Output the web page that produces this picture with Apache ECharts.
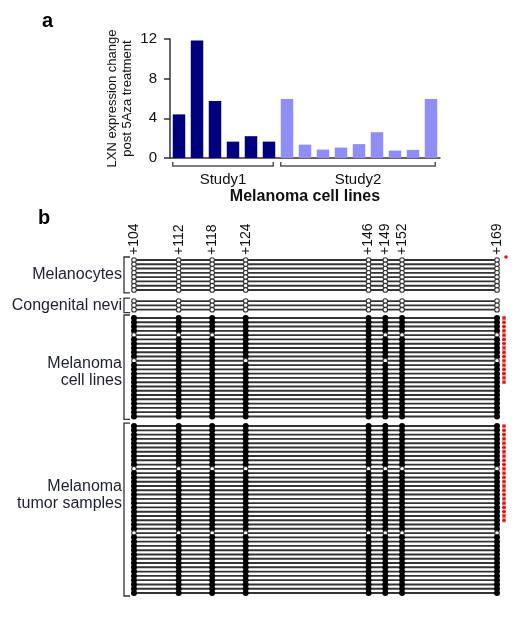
<!DOCTYPE html>
<html><head><meta charset="utf-8">
<script src="https://cdn.jsdelivr.net/npm/echarts@6/dist/echarts.min.js"></script>
<style>html,body{margin:0;padding:0;background:#fff}#c{width:524px;height:617px}</style>
</head><body><div id="c"></div>
<script>
// ---------- Panel a data ----------
const study1Values = [4.4, 11.85, 5.75, 1.65, 2.2, 1.65];
const study2Values = [5.95, 1.35, 0.85, 1.05, 1.4, 2.6, 0.75, 0.82, 5.95];
const studyNames = ['Study1', 'Study2'];
const yTickValues = [0, 4, 8, 12];

// ---------- Panel b data ----------
const sites = [104, 112, 118, 124, 146, 149, 152, 169];
const groupLabels = ['Melanocytes', 'Congenital nevi', 'Melanoma\ncell lines', 'Melanoma\ntumor samples'];
// 1 = methylated (filled), 0 = unmethylated (open)
const melanocytes = ['00000000','00000000','00000000','00000000','00000000','00000000','00000000','00000000'];
const congenitalNevi = ['00000000','00000000','00000000'];
const melanomaCellLines = [
  '11111111','11111111','11111111','11111111','00011000','11111111','11111111','11111111',
  '11111111','11111111','01101010','11111111','11111111','11111111','11111111','11111111',
  '11111111','11111111','11111111','11111111','11111111','11111111','11111111','11111111'
];
const melanomaTumors = [
  '11111111','11111111','11111111','11111111','11111111','11111111','11111111','11111111',
  '11111111','11111111','00000000','11111111','11111111','11111111','11111111','11111111',
  '11111111','11111111','11111111','11111111','11111111','11111111','11111111','11111111',
  '11111111','00000000','11111111','11111111','11111111','11111111','11111111','11111111',
  '11111111','11111111','11111111','11111111','11111111','11111111','11111111','11111111'
];
// red asterisk marks to the right of rows
const melanocyteMarks = [1,0,0,0,0,0,0,0];
const congenitalNeviMarks = [0,0,0];
const cellLineMarks = [1,1,1,1,1,1,1,1,1,1,1,1,1,1,1,1,0,0,0,0,0,0,0,0];
const tumorMarks = [1,1,1,1,1,1,1,1,1,1,1,1,1,1,1,1,1,1,1,1,1,1,1,0,0,0,0,0,0,0,0,0,0,0,0,0,0,0,0,0];

// ---------- layout (not data) ----------
const FONT = '"Liberation Sans", Arial, sans-serif';
const groupStart = [0, 9.6, 13.55, 38.8];
const rowAxisMax = 77.8;
const labelShift = [0, 0, 5, -14];
const BAR_W = 12.5;

const barData = study1Values.map(v => ({value: v, itemStyle: {color: '#00007e'}}))
  .concat(study2Values.map(v => ({value: v, itemStyle: {color: '#8e8ef6'}})));
const barCats = barData.map((d, i) => 'L' + (i + 1));
const studyRanges = [[0, study1Values.length - 1], [study1Values.length, study1Values.length + study2Values.length - 1]];

const groupRows = [melanocytes, congenitalNevi, melanomaCellLines, melanomaTumors];
const groupMarks = [melanocyteMarks, congenitalNeviMarks, cellLineMarks, tumorMarks];
const rowsFlat = [];
groupRows.forEach((rows, g) => rows.forEach((p, i) => rowsFlat.push({y: groupStart[g] + i, pattern: p, mark: groupMarks[g][i], group: g})));
const groupSpans = groupRows.map((rows, g) => [groupStart[g], groupStart[g] + rows.length - 1]);

const chart = echarts.init(document.getElementById('c'), null, {renderer: 'canvas'});
chart.setOption({
  animation: false,
  textStyle: {fontFamily: FONT},
  graphic: [
    {type: 'text', left: 42, top: 11, style: {text: 'a', font: 'bold 20px ' + FONT, fill: '#000'}},
    {type: 'text', left: 38, top: 208, style: {text: 'b', font: 'bold 20px ' + FONT, fill: '#000'}}
  ],
  grid: [
    {left: 170, right: 84, top: 39, bottom: 617 - 158},
    {left: 134, right: 27, top: 260, bottom: 24}
  ],
  xAxis: [
    {gridIndex: 0, type: 'category', data: barCats,
     axisLine: {show: true, lineStyle: {color: '#333', width: 1.5}},
     axisTick: {show: false}, axisLabel: {show: false},
     name: 'Melanoma cell lines', nameLocation: 'middle', nameGap: 31, nameMoveOverlap: false,
     nameTextStyle: {fontWeight: 'bold', fontSize: 16, color: '#111', fontFamily: FONT}},
    {gridIndex: 1, type: 'value', min: 104, max: 169, position: 'top',
     axisLine: {show: false}, axisTick: {show: false}, splitLine: {show: false},
     axisLabel: {show: true, customValues: sites, formatter: v => '+' + v, rotate: 90,
                 fontSize: 14, color: '#111', margin: 5, fontFamily: FONT}}
  ],
  yAxis: [
    {gridIndex: 0, type: 'value', min: 0, max: 12, interval: 4,
     axisLine: {show: true, lineStyle: {color: '#333', width: 1.5}},
     axisTick: {show: true, length: 6, lineStyle: {color: '#333', width: 1.5}},
     splitLine: {show: false},
     axisLabel: {fontSize: 15, color: '#111', margin: 13, fontFamily: FONT,
                 customValues: yTickValues},
     name: 'LXN expression change\npost 5Aza treatment', nameLocation: 'middle', nameRotate: 90,
     nameGap: 35, nameMoveOverlap: false,
     nameTextStyle: {fontSize: 13, lineHeight: 15, color: '#111', fontFamily: FONT}},
    {gridIndex: 1, type: 'value', min: 0, max: rowAxisMax, inverse: true, show: false}
  ],
  series: [
    {type: 'bar', xAxisIndex: 0, yAxisIndex: 0, data: barData, barWidth: BAR_W},
    {type: 'custom', xAxisIndex: 0, yAxisIndex: 0, clip: false, z: 5,
     data: studyRanges.map(r => [r[0], 0, r[1]]),
     encode: {x: 0, y: 1},
     renderItem: function (params, api) {
       const a = api.coord([api.value(0), 0]);
       const b = api.coord([api.value(2), 0]);
       const x0 = a[0] - BAR_W / 2, x1 = b[0] + BAR_W / 2 - 2;
       const y = a[1] + 8;
       return {type: 'group', children: [
         {type: 'polyline', shape: {points: [[x0, y - 4], [x0, y], [x1, y], [x1, y - 4]]},
          style: {stroke: '#555', lineWidth: 1.5, fill: null}},
         {type: 'text', style: {text: studyNames[params.dataIndex], x: (x0 + x1) / 2, y: y + 14,
          align: 'center', verticalAlign: 'middle', font: '15px ' + FONT, fill: '#111'}}
       ]};
     }},
    {type: 'custom', xAxisIndex: 1, yAxisIndex: 1, clip: false, z: 5,
     data: rowsFlat.map(r => [104, r.y]),
     encode: {x: 0, y: 1},
     renderItem: function (params, api) {
       const r = rowsFlat[params.dataIndex];
       const p0 = api.coord([sites[0], r.y]);
       const p1 = api.coord([sites[sites.length - 1], r.y]);
       const children = [{type: 'line', shape: {x1: p0[0], y1: p0[1], x2: p1[0], y2: p1[1]},
         style: {stroke: '#333', lineWidth: 1.9}}];
       sites.forEach((s, k) => {
         const c = api.coord([s, r.y]);
         if (r.pattern[k] === '1') {
           children.push({type: 'circle', shape: {cx: c[0], cy: c[1], r: 3.0}, style: {fill: '#000'}});
         } else {
           children.push({type: 'circle', shape: {cx: c[0], cy: c[1], r: 2.3}, style: {fill: '#fff', stroke: '#333', lineWidth: 1.1}});
         }
       });
       if (r.mark) {
         if (r.group === 0) {
           children.push({type: 'circle', shape: {cx: p1[0] + 9, cy: p1[1] - 3, r: 1.8}, style: {fill: '#e81010'}});
         } else {
           const mx = p1[0] + 7, my = p1[1];
           const st = {stroke: '#e81010', lineWidth: 1.2};
           children.push({type: 'line', shape: {x1: mx - 2, y1: my, x2: mx + 2, y2: my}, style: st});
           children.push({type: 'line', shape: {x1: mx - 1.3, y1: my - 1.8, x2: mx + 1.3, y2: my + 1.8}, style: st});
           children.push({type: 'line', shape: {x1: mx + 1.3, y1: my - 1.8, x2: mx - 1.3, y2: my + 1.8}, style: st});
         }
       }
       return {type: 'group', children: children};
     }},
    {type: 'custom', xAxisIndex: 1, yAxisIndex: 1, clip: false, z: 5,
     data: groupSpans.map(s => [104, s[0], s[1]]),
     encode: {x: 0, y: 1},
     renderItem: function (params, api) {
       const g = params.dataIndex;
       const top = api.coord([104, api.value(1)]);
       const bot = api.coord([104, api.value(2)]);
       const bx = top[0] - 10;
       const yT = top[1] - 3, yB = bot[1] + 3;
       return {type: 'group', children: [
         {type: 'polyline', shape: {points: [[bx + 6, yT], [bx, yT], [bx, yB], [bx + 6, yB]]},
          style: {stroke: '#333', lineWidth: 1.3, fill: null}},
         {type: 'text', style: {text: groupLabels[g], x: bx - 2, y: (yT + yB) / 2 + labelShift[g],
          align: 'right', verticalAlign: 'middle', font: '16px ' + FONT, lineHeight: 17, fill: '#1c1f2e'}}
       ]};
     }}
  ]
});
</script>
</body></html>
